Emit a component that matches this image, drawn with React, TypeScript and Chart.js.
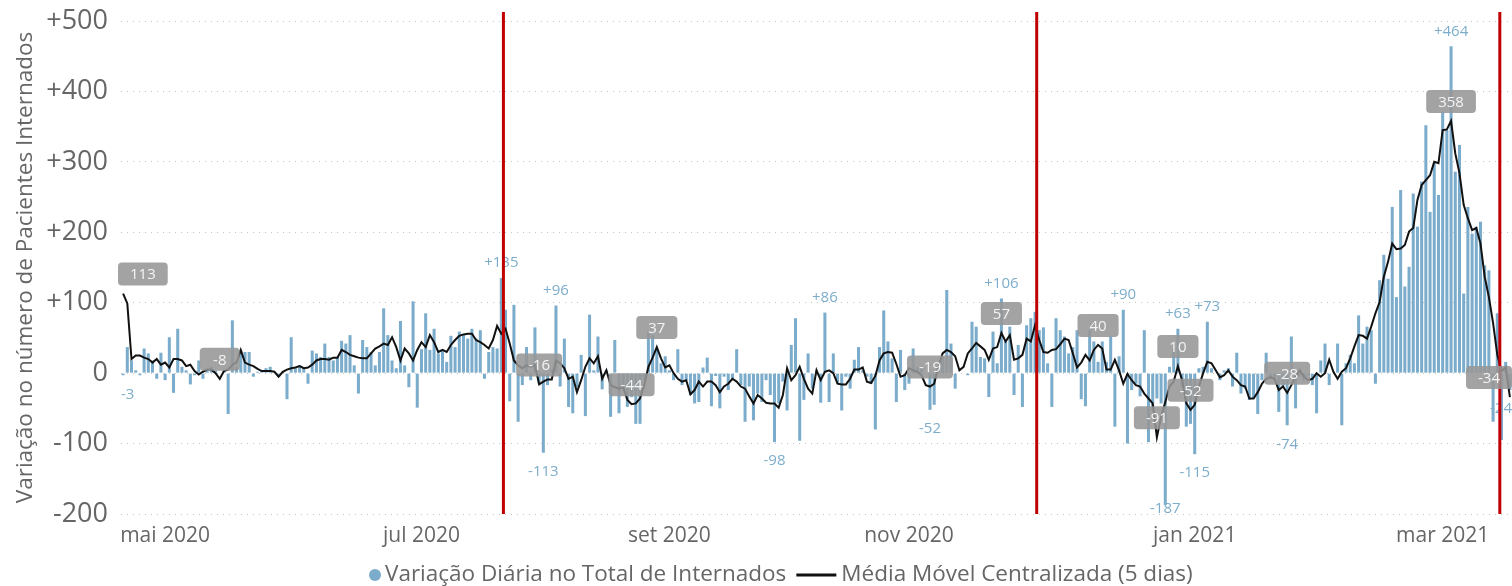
import React, { useEffect, useRef } from 'react';
import { Chart, registerables } from 'chart.js';

Chart.register(...registerables);

// Daily change in hospitalised patients (bars)
const dailyChange: number[] = [
  -3, 37, 18, 4, -3, 35, 28, 18, -8, 29,
  -10, 51, -28, 63, 9, 4, -16, -3, 18, -8,
  4, 9, 4, 0, 4, -58, 75, 9, 33, 30,
  30, -5, 2, 4, 7, 9, 0, -5, 2, -37,
  51, 7, 11, 7, -15, 32, 28, 23, 42, 23,
  18, 23, 46, 42, 54, 11, -29, 47, 37, 30,
  11, 30, 92, 54, 18, 7, 74, 11, -20, 102,
  -49, 34, 85, 33, 63, 28, 33, 16, 53, 37,
  59, 54, 49, 63, 49, 61, -8, 30, 37, 35,
  135, 90, -40, 97, -69, -17, 37, -10, 65, -15,
  -113, -17, 5, 96, -19, 49, -48, -57, -20, 26,
  -61, 83, 4, 52, -23, 4, -62, 47, -57, -22,
  -48, -34, -72, -72, -10, 59, 54, 33, 14, 24,
  4, -10, 34, -17, -10, -31, -43, -41, 8, 22,
  -47, -4, -50, -5, -24, -10, 34, -17, -69, -19,
  -67, -29, -41, -10, -31, -98, -43, -12, -53, 40,
  78, -96, -38, 28, -22, 4, -42, 86, -41, 28,
  -15, -53, -5, -22, 19, 37, 4, -5, -15, -80,
  37, 89, 45, 21, -41, 33, -24, -15, 35, 9,
  9, 0, -52, -45, 9, 23, 118, 42, -22, 0,
  0, -3, 73, 66, 23, 21, -34, 59, 14, 106,
  47, 66, -31, 40, -48, 68, 78, 87, 61, 65,
  14, -48, 78, 61, 52, 28, 37, 61, -37, -47,
  61, 45, 16, 45, 16, 52, -76, 24, 90, -100,
  -24, -15, -33, 61, -98, -53, -36, -43, -187, 9,
  35, 63, -19, -76, -72, -115, 7, 9, 73, 7,
  0, -10, 4, 7, -19, 29, -29, -22, -38, -36,
  -58, -10, 29, -8, -10, -55, -19, -74, 52, -50,
  -5, -10, -3, -17, -57, 18, 42, -17, 0, 42,
  -74, 14, 26, 14, 82, 42, 66, 61, -15, 132,
  168, 134, 236, 108, 260, 123, 151, 255, 208, 272,
  352, 229, 298, 253, 371, 345, 464, 286, 324, 113,
  236, 198, 208, 215, 153, 146, -69, 85, -95, 16,
  -24,
];

// Centred 5-day moving average (line)
const movingAvg: number[] = [
  113, 99, 20, 25, 25, 22, 20, 15, 20, 12,
  15, 8, 20, 20, 18, 10, 12, 3, -2, 2,
  5, 5, 0, -8, 3, 5, 12, 15, 33, 15,
  12, 10, 6, 3, 3, 3, 2, -5, 2, 5,
  7, 8, 10, 7, 8, 12, 18, 20, 20, 19,
  22, 22, 33, 30, 26, 24, 22, 21, 21, 28,
  35, 38, 42, 40, 51, 37, 18, 35, 28, 18,
  33, 44, 37, 54, 44, 30, 33, 30, 40, 47,
  53, 55, 56, 56, 47, 44, 40, 35, 47, 67,
  56, 63, 42, 18, 11, 7, 11, 9, 11, -16,
  -12, -9, -9, 18, 14, 7, -8, -5, -27, -10,
  9, 21, 14, 24, -8, 4, -17, -20, -22, -20,
  -38, -44, -43, -36, -17, 9, 22, 37, 21, 8,
  11, 0, -8, -12, -10, -30, -24, -12, -19, -12,
  -12, -17, -27, -19, -15, -8, -12, -19, -22, -33,
  -43, -31, -36, -42, -43, -43, -49, -31, 7, -10,
  -3, 9, -8, -22, -29, 4, -10, 2, 4, 0,
  -15, -16, -16, -8, 5, 5, 8, -12, -14, -4,
  18, 28, 30, 29, 13, -5, -3, 7, 4, 2,
  -3, -17, -19, -15, 9, 28, 33, 30, 24, 4,
  9, 28, 35, 43, 38, 33, 19, 35, 37, 57,
  45, 54, 19, 21, 26, 49, 45, 68, 47, 30,
  29, 33, 34, 41, 49, 47, 28, 8, 15, 26,
  18, 33, 40, 35, 5, 5, 19, 4, -15, -1,
  -10, -17, -19, -29, -36, -43, -91, -62, -41, -19,
  -12, 10, -10, -43, -52, -45, -19, 0, 16, 14,
  4, -6, -3, 4, -5, -10, -17, -19, -36, -36,
  -27, -15, -8, -6, -8, -24, -19, -28, -17, -5,
  4, -5, -10, -8, 0, -5, 0, 19, 2, -8,
  2, 7, 21, 38, 54, 53, 49, 66, 85, 101,
  137, 158, 184, 176, 177, 182, 201, 206, 246, 267,
  274, 281, 300, 298, 345, 346, 358, 312, 284, 239,
  220, 203, 206, 184, 137, 108, 71, 26, 3, 8,
  -34,
];

// Categories: consecutive days starting 21 Apr 2020
const startDate = new Date(2020, 3, 21);
const dayLabels: string[] = dailyChange.map((_, i) => {
  const d = new Date(startDate.getTime());
  d.setDate(d.getDate() + i);
  return d.toISOString().slice(0, 10);
});

// X tick labels and the day index where each is shown
const xTickLabels: string[] = ['mai 2020', 'jul 2020', 'set 2020', 'nov 2020', 'jan 2021', 'mar 2021'];
const xTickIndex: number[] = [10, 71, 130, 187, 255, 314];

// Vertical red marker lines (day index)
const redLineDays: number[] = [90.5, 217.4, 327.6];

// Indices with a value label on the bar
const barLabelIdx: number[] = [0, 90, 100, 103, 155, 167, 192, 209, 238, 248, 251, 255, 258, 277, 316, 330];
// Indices with a grey value box on the moving average
const avgLabelIdx: number[] = [0, 23, 99, 121, 127, 192, 209, 232, 246, 251, 254, 277, 316, 330];

const BAR_COLOR = '#7BACCB';
const LABEL_BLUE = '#7DADCB';
const GREY_TEXT = '#666666';
const FONT = '"Open Sans", "Noto Sans", sans-serif';

const signed = (v: number) => (v > 0 ? '+' + v : String(v));

function roundRectPath(ctx: CanvasRenderingContext2D, x: number, y: number, w: number, h: number, r: number) {
  ctx.beginPath();
  ctx.moveTo(x + r, y);
  ctx.lineTo(x + w - r, y);
  ctx.quadraticCurveTo(x + w, y, x + w, y + r);
  ctx.lineTo(x + w, y + h - r);
  ctx.quadraticCurveTo(x + w, y + h, x + w - r, y + h);
  ctx.lineTo(x + r, y + h);
  ctx.quadraticCurveTo(x, y + h, x, y + h - r);
  ctx.lineTo(x, y + r);
  ctx.quadraticCurveTo(x, y, x + r, y);
  ctx.closePath();
}

const overlayPlugin = {
  id: 'overlay',
  afterDatasetsDraw(chart: any) {
    const { ctx, chartArea } = chart;
    const xs = chart.scales.x;
    const ys = chart.scales.y;
    ctx.save();

    // bar value labels
    ctx.font = `15px ${FONT}`;
    ctx.fillStyle = LABEL_BLUE;
    ctx.textAlign = 'center';
    ctx.textBaseline = 'middle';
    barLabelIdx.forEach((i) => {
      const v = dailyChange[i];
      const txt = signed(v);
      const w = ctx.measureText(txt).width;
      let cx = xs.getPixelForValue(i);
      cx = Math.min(Math.max(cx, chartArea.left + w / 2), chartArea.right - w / 2);
      let cy = v >= 0 ? ys.getPixelForValue(v) - 15 : ys.getPixelForValue(v) + 19;
      cy = Math.min(Math.max(cy, chartArea.top + 9), chartArea.bottom - 5);
      ctx.fillText(txt, cx, cy);
    });

    // red vertical lines
    ctx.strokeStyle = '#C00000';
    ctx.lineWidth = 3;
    redLineDays.forEach((d) => {
      const px = xs.getPixelForValue(d);
      ctx.beginPath();
      ctx.moveTo(px, chartArea.top - 9);
      ctx.lineTo(px, chartArea.bottom);
      ctx.stroke();
    });

    // grey boxes on moving average
    ctx.font = `15px ${FONT}`;
    avgLabelIdx.forEach((i) => {
      const v = movingAvg[i];
      const txt = String(v);
      const tw = ctx.measureText(txt).width;
      const bw = Math.max(40, tw + 24);
      const bh = 23;
      const cx = xs.getPixelForValue(i);
      let left = cx - bw / 2;
      left = Math.min(Math.max(left, chartArea.left - 3), chart.width - bw);
      const py = ys.getPixelForValue(v);
      const top = py - 8 - bh;
      ctx.fillStyle = 'rgba(150,150,150,0.88)';
      roundRectPath(ctx, left, top, bw, bh, 4);
      ctx.fill();
      ctx.fillStyle = '#F4F4F4';
      ctx.fillText(txt, left + bw / 2, top + bh / 2 + 1);
    });
    ctx.restore();
  },
  afterDraw(chart: any) {
    const { ctx } = chart;
    ctx.save();
    const ly = 575;
    ctx.font = `22.5px ${FONT}`;
    ctx.textBaseline = 'middle';
    ctx.textAlign = 'left';
    const t1 = 'Variação Diária no Total de Internados';
    const t2 = 'Média Móvel Centralizada (5 dias)';
    const startX = 369;
    ctx.fillStyle = BAR_COLOR;
    ctx.beginPath();
    ctx.arc(startX + 6, ly, 6, 0, Math.PI * 2);
    ctx.fill();
    ctx.fillStyle = GREY_TEXT;
    const tx1 = startX + 16;
    ctx.fillText(t1, tx1, ly);
    const w1 = ctx.measureText(t1).width;
    const lx = tx1 + w1 + 10;
    ctx.strokeStyle = '#111';
    ctx.lineWidth = 3;
    ctx.beginPath();
    ctx.moveTo(lx, ly);
    ctx.lineTo(lx + 40, ly);
    ctx.stroke();
    ctx.fillStyle = GREY_TEXT;
    ctx.fillText(t2, lx + 45, ly);
    ctx.restore();
  },
};

export default function App() {
  const canvasRef = useRef<HTMLCanvasElement | null>(null);

  useEffect(() => {
    document.body.style.margin = '0';
    const canvas = canvasRef.current;
    if (!canvas) return;
    const chart = new Chart(canvas, {
      type: 'bar',
      data: {
        labels: dayLabels,
        datasets: [
          {
            type: 'line',
            label: 'Média Móvel Centralizada (5 dias)',
            data: movingAvg,
            borderColor: '#111111',
            borderWidth: 2,
            pointRadius: 0,
            tension: 0,
            order: 0,
          } as any,
          {
            type: 'bar',
            label: 'Variação Diária no Total de Internados',
            data: dailyChange,
            backgroundColor: BAR_COLOR,
            barPercentage: 0.72,
            categoryPercentage: 1,
            order: 1,
          },
        ],
      },
      options: {
        responsive: false,
        animation: false,
        layout: { padding: { top: 21, right: 0, bottom: 0, left: 0 } },
        plugins: {
          legend: { display: false },
          tooltip: { enabled: false },
        },
        scales: {
          x: {
            type: 'category',
            offset: true,
            grid: { display: false, drawTicks: false },
            border: { display: false },
            afterFit: (scale: any) => {
              scale.height = 72;
              scale.paddingLeft = 0;
              scale.paddingRight = 0;
            },
            ticks: {
              autoSkip: false,
              maxRotation: 0,
              minRotation: 0,
              padding: 9,
              color: GREY_TEXT,
              font: { family: FONT, size: 21 },
              callback: (_v: any, index: number) => {
                const k = xTickIndex.indexOf(index);
                return k >= 0 ? xTickLabels[k] : '';
              },
            },
          },
          y: {
            min: -200,
            max: 500,
            afterFit: (scale: any) => {
              scale.width = 121;
              scale.paddingTop = 0;
              scale.paddingBottom = 0;
            },
            grid: { color: '#C4C4C4', lineWidth: 1, drawTicks: false },
            border: { display: false, dash: [1, 5] },
            ticks: {
              stepSize: 100,
              padding: 13,
              color: GREY_TEXT,
              font: { family: FONT, size: 27 },
              callback: (v: any) => signed(Number(v)),
            },
            title: {
              display: true,
              text: 'Variação no número de Pacientes Internados',
              color: GREY_TEXT,
              font: { family: FONT, size: 22.5 },
              padding: { top: 12, bottom: 0 },
            },
          },
        },
      },
      plugins: [overlayPlugin],
    });
    return () => chart.destroy();
  }, []);

  return (
    <div style={{ width: 1512, height: 586 }}>
      <canvas ref={canvasRef} width={1512} height={586} style={{ display: 'block' }} />
    </div>
  );
}
